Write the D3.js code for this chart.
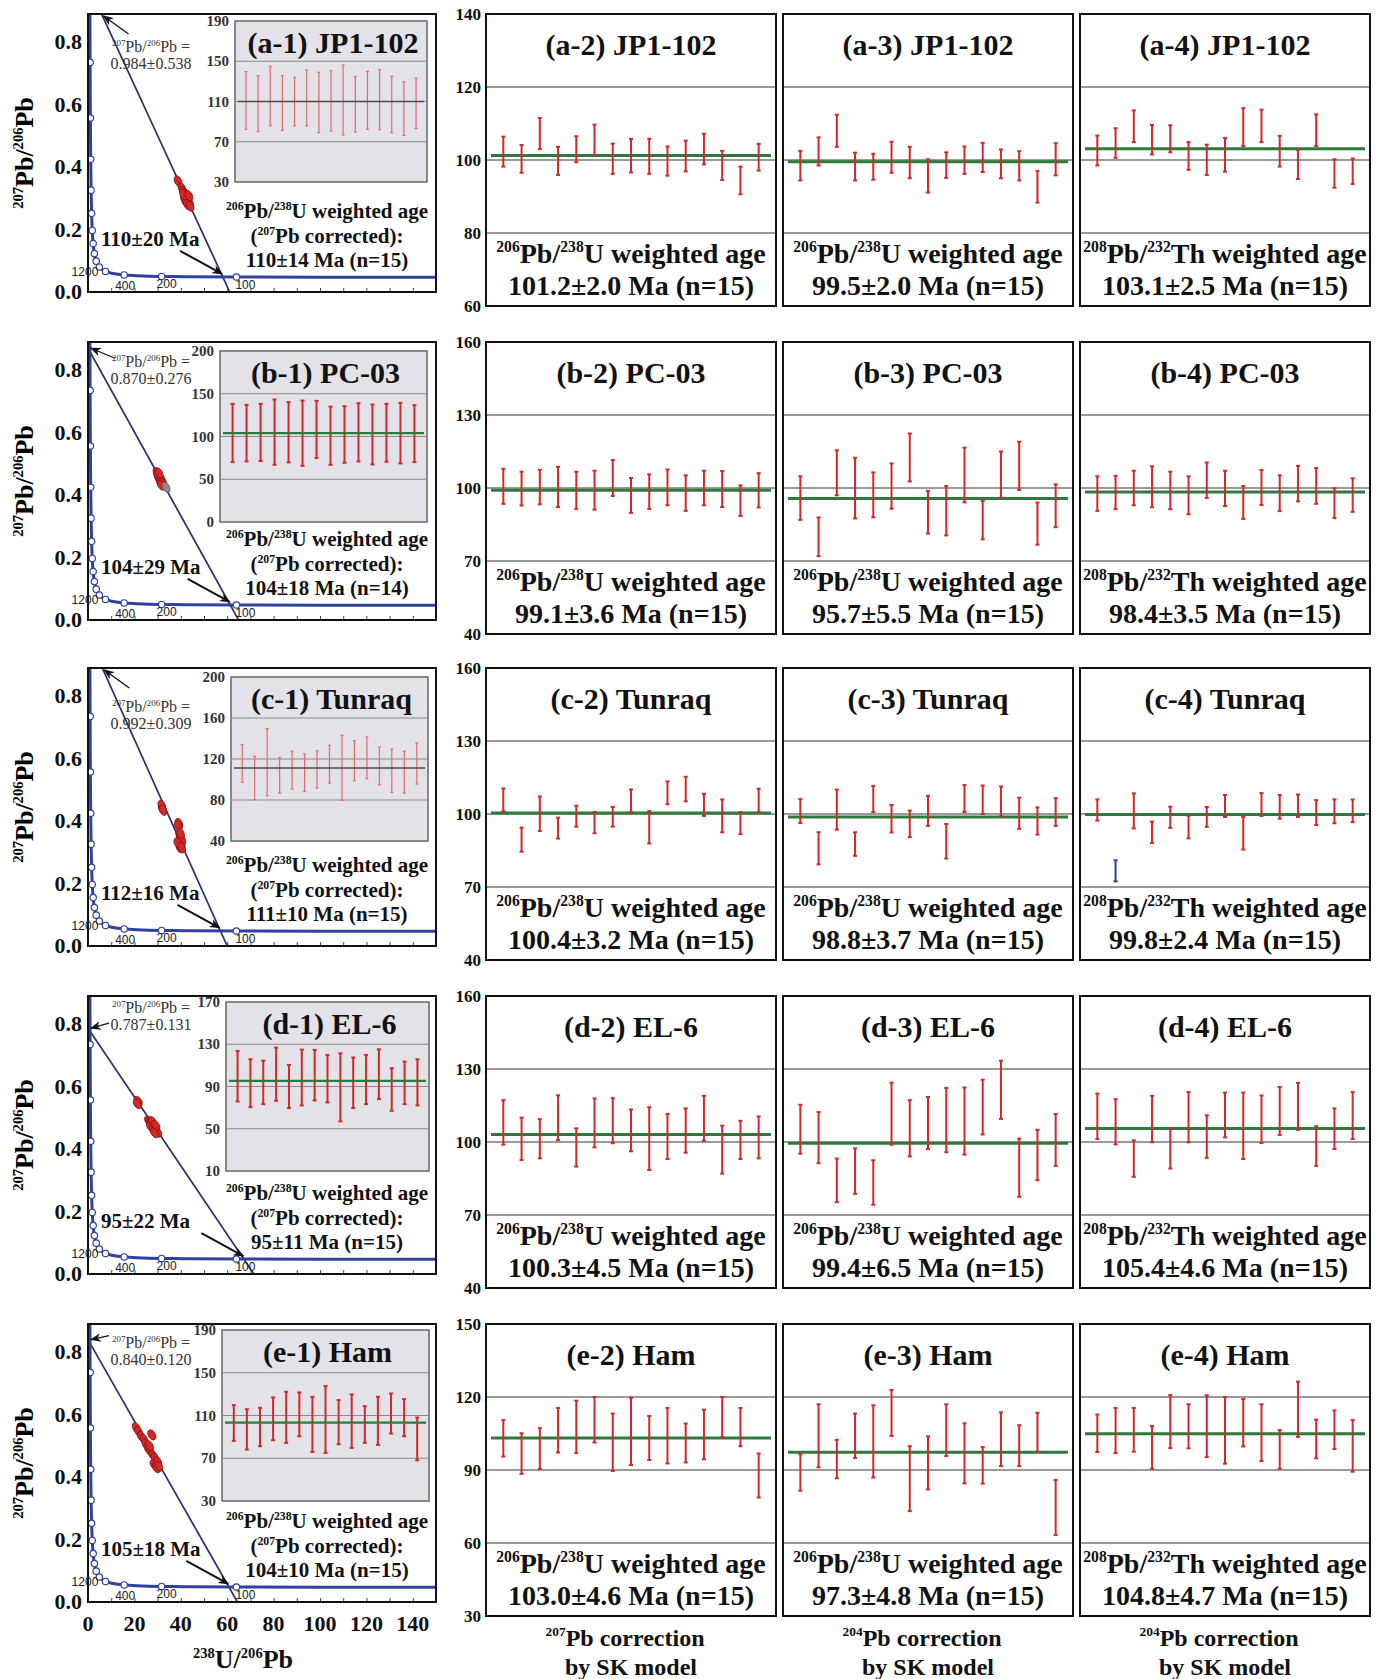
<!DOCTYPE html>
<html>
<head>
<meta charset="utf-8">
<script src="https://cdn.jsdelivr.net/npm/d3@7"></script>
<style>
  body { margin: 0; background: #fff; }
  svg text { font-family: "Liberation Serif", "Times New Roman", serif; }
</style>
</head>
<body>
<svg id="fig" width="1386" height="1679"></svg>
<script>
// ---------------- data ----------------
const rowIds = ["a", "b", "c", "d", "e"];
const sampleNames = ["JP1-102", "PC-03", "Tunraq", "EL-6", "Ham"];

// Tera-Wasserburg: common Pb intercept, lower intercept and spot analyses
const commonPbText = ["0.984±0.538", "0.870±0.276", "0.992±0.309", "0.787±0.131", "0.840±0.120"];
const commonPbValue = [0.984, 0.870, 0.992, 0.787, 0.840];
const lowerAxisCross = [61.1, 64.9, 60.0, 71.5, 64.4];
const interceptText = ["110±20 Ma", "104±29 Ma", "112±16 Ma", "95±22 Ma", "105±18 Ma"];
const interceptPoint = [[58.2, 0.0485], [61.5, 0.0482], [57.1, 0.0486], [67.4, 0.048], [60.9, 0.0482]];

// concordia: [age Ma, 238U/206Pb, 207Pb/206Pb]
const concordia = [
  [5200, 0.806, 0.974], [5000, 0.853, 0.845], [4800, 0.905, 0.735], [4400, 1.022, 0.557],
  [4000, 1.163, 0.425], [3600, 1.337, 0.326], [3200, 1.556, 0.252], [2800, 1.838, 0.197],
  [2400, 2.217, 0.155], [2000, 2.749, 0.123], [1800, 3.104, 0.110], [1600, 3.55, 0.0987],
  [1400, 4.122, 0.0888], [1200, 4.88, 0.080], [1000, 5.959, 0.0725], [800, 7.57, 0.0658],
  [600, 10.25, 0.0599], [400, 15.6, 0.0546], [300, 20.99, 0.0523], [200, 31.73, 0.0498],
  [150, 42.48, 0.0491], [100, 63.96, 0.048], [50, 128.4, 0.047], [40, 160.7, 0.0468]
];
const concordiaMarks = [4800, 4400, 4000, 3600, 3200, 2800, 2400, 2000, 1600, 1200, 800, 400, 200, 100];
const concordiaTags = [1200, 400, 200, 100];

const spotsA = [[38.8, 0.355], [40.5, 0.332], [41.0, 0.322], [41.8, 0.316], [42.2, 0.31], [41.5, 0.30], [42.5, 0.305], [43.0, 0.298], [42.0, 0.29], [43.2, 0.293], [43.8, 0.285], [42.8, 0.28], [44.0, 0.275], [41.2, 0.312], [43.5, 0.308]];
const spotsB = [[29.8, 0.472], [30.3, 0.462], [30.8, 0.458], [31.0, 0.452], [31.5, 0.447], [31.2, 0.44], [30.5, 0.452], [31.8, 0.44], [32.0, 0.445], [30.0, 0.462], [31.3, 0.456], [32.2, 0.437], [30.6, 0.47], [31.6, 0.432]];
const rejectedSpotsB = [[33.6, 0.425]];
const spotsC = [[32.0, 0.44], [31.8, 0.45], [32.3, 0.435], [39.2, 0.392], [38.9, 0.385], [39.5, 0.355], [39.8, 0.345], [40.2, 0.33], [39.3, 0.325], [40.5, 0.34], [39.6, 0.315], [40.0, 0.32], [38.7, 0.33], [39.9, 0.36], [40.4, 0.315]];
const spotsD = [[21.6, 0.553], [21.3, 0.545], [26.2, 0.49], [26.8, 0.484], [27.5, 0.48], [28.0, 0.474], [28.5, 0.468], [29.0, 0.463], [27.0, 0.472], [28.2, 0.46], [29.5, 0.458], [30.0, 0.454], [27.8, 0.488], [29.2, 0.476], [28.7, 0.452]];
const spotsE = [[20.8, 0.558], [21.8, 0.545], [23.0, 0.53], [24.2, 0.52], [25.0, 0.505], [27.5, 0.535], [26.0, 0.49], [27.0, 0.48], [28.0, 0.47], [29.0, 0.46], [28.5, 0.44], [30.0, 0.45], [29.5, 0.43], [30.5, 0.435], [26.5, 0.50]];
const spots = [spotsA, spotsB, spotsC, spotsD, spotsE];

// inset: 206Pb/238U ages (207Pb corrected), [high, low]
const insetA = [[139.7, 82.3], [135.7, 80.0], [145.0, 86.0], [135.7, 81.3], [134.0, 85.7], [141.3, 85.7], [139.0, 79.0], [140.7, 80.7], [146.3, 76.7], [134.7, 79.7], [140.0, 82.3], [141.7, 82.0], [135.0, 79.0], [129.7, 76.3], [133.3, 83.3]];
const insetB = [[138.2, 70.1], [137.0, 70.9], [138.2, 71.3], [143.3, 66.9], [140.2, 69.7], [142.1, 65.7], [141.7, 74.8], [135.0, 66.9], [135.4, 69.3], [139.0, 70.9], [137.4, 67.3], [138.2, 70.5], [139.4, 68.5], [136.6, 70.1]];
const insetC = [[134.0, 97.2], [122.6, 80.3], [149.6, 84.2], [121.6, 86.8], [127.5, 90.7], [124.9, 88.4], [128.1, 91.7], [133.4, 96.5], [143.1, 79.6], [137.9, 98.8], [141.5, 100.8], [131.7, 94.9], [129.8, 87.4], [127.5, 86.8], [135.6, 95.6]];
const insetD = [[123.6, 75.8], [115.8, 70.5], [114.5, 73.3], [126.8, 76.5], [110.4, 69.6], [124.9, 72.1], [124.6, 76.8], [119.9, 74.9], [121.4, 57.0], [117.4, 69.6], [119.9, 73.3], [125.2, 78.1], [107.3, 67.0], [113.6, 73.3], [115.8, 72.1]];
const insetE = [[119.7, 86.3], [115.9, 78.1], [117.2, 81.3], [126.9, 86.9], [132.2, 84.4], [131.6, 90.6], [127.5, 75.9], [137.5, 75.0], [124.4, 83.1], [129.7, 79.7], [118.8, 84.4], [127.5, 82.5], [130.6, 93.1], [125.3, 90.6], [108.1, 68.1]];
const insetSeries = [insetA, insetB, insetC, insetD, insetE];
const insetDomain = [[30, 190], [0, 200], [40, 200], [10, 170], [30, 190]];
const insetStep = [40, 50, 40, 40, 40];
const insetMean = [110, 104, 111.2, 95.3, 103.4];
const insetAgeText = ["110±14 Ma (n=15)", "104±18 Ma (n=14)", "111±10 Ma (n=15)", "95±11 Ma (n=15)", "104±10 Ma (n=15)"];

// weighted age panels, [high, low]
const ageA2 = [[106.4, 98.2], [104.1, 96.5], [111.5, 103.0], [103.6, 95.9], [106.5, 99.4], [109.7, 101.4], [104.5, 96.2], [105.8, 96.6], [105.8, 96.2], [103.7, 95.7], [105.3, 96.9], [107.2, 98.8], [102.5, 94.5], [98.2, 90.6], [104.4, 97.1]];
const ageA3 = [[102.5, 94.4], [106.2, 98.5], [112.4, 103.6], [102.0, 94.4], [101.7, 94.6], [105.0, 96.5], [103.6, 95.0], [100.2, 91.1], [102.1, 95.1], [103.7, 96.2], [104.7, 96.7], [102.9, 95.0], [102.4, 94.4], [97.0, 88.3], [104.6, 95.8]];
const ageA4 = [[106.7, 98.5], [108.7, 100.6], [113.6, 104.9], [109.6, 101.5], [109.5, 102.1], [104.9, 97.3], [104.2, 95.9], [106.0, 96.8], [114.2, 103.8], [113.8, 104.9], [106.6, 98.2], [102.8, 94.8], [112.5, 103.8], [100.2, 92.4], [100.4, 93.4]];
const ageB2 = [[107.9, 93.5], [106.7, 92.8], [107.5, 93.3], [108.7, 92.2], [106.7, 91.4], [107.1, 91.1], [111.5, 96.7], [104.1, 89.8], [105.6, 91.4], [107.6, 92.9], [105.2, 90.6], [107.1, 92.9], [107.0, 92.2], [101.1, 88.5], [106.1, 92.0]];
const ageB3 = [[104.8, 86.9], [87.9, 72.0], [115.5, 97.0], [112.4, 87.5], [106.4, 88.0], [110.1, 91.5], [122.4, 102.7], [98.8, 81.3], [100.8, 80.5], [116.6, 94.1], [94.7, 78.9], [115.0, 96.0], [119.0, 99.2], [94.0, 76.7], [101.5, 83.9]];
const ageB4 = [[104.8, 90.6], [105.0, 91.3], [107.1, 92.9], [108.9, 92.1], [106.7, 91.3], [104.8, 89.2], [110.5, 95.9], [107.1, 92.6], [100.8, 87.3], [107.4, 93.0], [105.2, 90.5], [109.1, 94.5], [108.2, 93.5], [99.9, 87.7], [104.0, 90.2]];
const ageC2 = [[110.5, 101.1], [94.4, 84.5], [107.2, 93.0], [98.5, 89.9], [103.4, 94.8], [100.8, 92.1], [102.9, 94.8], [110.1, 100.8], [101.2, 87.9], [113.4, 104.0], [115.3, 105.2], [108.3, 99.2], [106.0, 92.5], [100.8, 91.7], [110.4, 100.7]];
const ageC3 = [[106.1, 96.3], [92.5, 79.3], [110.0, 93.6], [92.5, 82.8], [111.5, 100.8], [103.7, 92.4], [101.4, 90.5], [107.5, 95.1], [95.9, 81.7], [111.9, 100.8], [111.7, 100.0], [111.3, 99.0], [106.7, 93.9], [102.7, 91.5], [106.5, 95.1]];
const ageC4 = [[106.0, 97.3], [81.0, 72.3], [108.5, 94.1], [96.9, 88.1], [103.0, 94.3], [99.3, 90.0], [102.9, 94.7], [107.8, 98.8], [98.8, 85.4], [108.6, 99.2], [107.8, 98.1], [108.0, 98.8], [105.7, 95.5], [106.0, 96.2], [106.0, 96.7]];
const rejectedC4 = [1]; // index of the spot left out of the mean
const ageD2 = [[117.2, 98.9], [110.0, 92.6], [109.4, 93.3], [119.2, 100.8], [105.6, 89.9], [117.9, 97.8], [118.0, 99.5], [113.4, 96.2], [114.3, 88.5], [111.5, 93.0], [113.8, 95.6], [119.0, 100.5], [106.7, 87.0], [108.7, 93.0], [110.5, 93.3]];
const ageD3 = [[115.3, 95.2], [112.3, 91.3], [93.2, 75.3], [97.4, 78.7], [92.5, 74.2], [124.4, 98.9], [117.2, 94.1], [118.5, 97.1], [122.2, 95.8], [122.4, 94.8], [125.6, 103.1], [133.4, 109.5], [101.4, 77.5], [105.0, 84.3], [111.5, 90.2]];
const ageD4 = [[119.9, 101.2], [117.6, 99.0], [100.7, 85.7], [119.0, 99.9], [105.3, 89.1], [120.5, 99.9], [111.0, 93.5], [120.3, 101.9], [120.3, 93.0], [119.1, 99.6], [122.6, 102.9], [124.3, 105.0], [106.5, 90.2], [113.8, 97.1], [120.5, 101.2]];
const ageE2 = [[110.5, 95.5], [105.1, 88.4], [107.2, 90.4], [115.5, 97.2], [118.5, 97.0], [120.0, 101.3], [113.2, 89.6], [119.7, 92.0], [112.2, 94.1], [115.5, 92.7], [109.1, 93.1], [114.8, 94.4], [120.0, 103.5], [115.5, 99.8], [96.8, 78.7]];
const ageE3 = [[96.5, 81.5], [117.0, 91.1], [102.4, 86.6], [113.2, 94.9], [116.6, 86.9], [122.9, 104.0], [99.8, 73.1], [103.8, 82.0], [117.0, 95.7], [109.2, 84.5], [99.4, 84.4], [113.7, 91.6], [108.4, 91.6], [113.5, 97.5], [85.9, 63.3]];
const ageE4 = [[112.8, 97.4], [115.5, 97.0], [115.5, 97.5], [108.1, 90.5], [120.8, 99.0], [117.0, 98.9], [120.7, 95.3], [120.0, 92.6], [119.2, 99.7], [117.0, 93.7], [106.4, 90.5], [126.3, 103.6], [110.7, 94.8], [114.5, 98.6], [110.5, 89.3]];
const ageSeries = [[ageA2, ageA3, ageA4], [ageB2, ageB3, ageB4], [ageC2, ageC3, ageC4], [ageD2, ageD3, ageD4], [ageE2, ageE3, ageE4]];

const ageDomain = [[60, 140], [40, 160], [40, 160], [40, 160], [30, 150]];
const ageStep = [20, 30, 30, 30, 30];
const meanLines = [[101.2, 99.5, 103.1], [99.1, 95.7, 98.4], [100.4, 98.8, 99.8], [103.1, 99.5, 105.5], [103.1, 97.3, 104.9]];
const meanText = [
  ["101.2±2.0 Ma (n=15)", "99.5±2.0 Ma (n=15)", "103.1±2.5 Ma (n=15)"],
  ["99.1±3.6 Ma (n=15)", "95.7±5.5 Ma (n=15)", "98.4±3.5 Ma (n=15)"],
  ["100.4±3.2 Ma (n=15)", "98.8±3.7 Ma (n=15)", "99.8±2.4 Ma (n=15)"],
  ["100.3±4.5 Ma (n=15)", "99.4±6.5 Ma (n=15)", "105.4±4.6 Ma (n=15)"],
  ["103.0±4.6 Ma (n=15)", "97.3±4.8 Ma (n=15)", "104.8±4.7 Ma (n=15)"]
];
const methodText = ["^{206}Pb/^{238}U weighted age", "^{206}Pb/^{238}U weighted age", "^{208}Pb/^{232}Th weighted age"];
const footerText = ["^{207}Pb correction", "^{204}Pb correction", "^{204}Pb correction"];

// ---------------- layout ----------------
const rowTop = [14, 342, 668, 996, 1324];
const twLeft = 88, twRight = 436, twHeight = 278;
const twX = [0, 150], twY = [0, 0.89];
const panelX = [[486, 776], [783, 1073], [1080, 1370]];
const panelHeight = 292;
const insetX = [[235, 427], [220, 427], [231, 428], [226, 429], [222, 429]];
const insetY = [[7, 168], [9, 180], [9, 173], [6, 175], [6, 177]];
const tagY = [38, 25, 44, 17, 24];
const tagArrow = [[25, 18], [24, 10], [25, 18], [18, -5], [18, -4]];

const red = "#d42828", green = "#2e7a3c", blue = "#2f40a0", navy = "#2b2d6e";

const svg = d3.select("#fig");
const defs = svg.append("defs");
defs.append("marker")
  .attr("id", "arrowHead")
  .attr("viewBox", "0 0 10 8")
  .attr("refX", 9)
  .attr("refY", 4)
  .attr("markerWidth", 11)
  .attr("markerHeight", 9)
  .attr("markerUnits", "userSpaceOnUse")
  .attr("orient", "auto")
  .append("path")
  .attr("d", "M0,0 L10,4 L0,8 L3,4 Z")
  .attr("fill", "#111");

// text with ^{..} superscripts
function richText(sel, str, fs) {
  const parts = str.split(/(\^\{[^}]*\})/).filter(function (s) { return s.length; });
  let raised = false;
  parts.forEach(function (p) {
    const sup = p.indexOf("^{") === 0;
    const t = sel.append("tspan").text(sup ? p.slice(2, -1) : p);
    if (sup) {
      t.attr("font-size", fs * 0.56);
      if (!raised) t.attr("dy", -fs * 0.4);
      raised = true;
    } else {
      if (raised) t.attr("dy", fs * 0.4);
      raised = false;
    }
  });
  return sel;
}

function label(g, x, y, str, fs, opts) {
  opts = opts || {};
  const t = g.append("text")
    .attr("x", x)
    .attr("y", y)
    .attr("font-size", fs)
    .attr("font-weight", opts.weight || "bold")
    .attr("text-anchor", opts.anchor || "middle")
    .attr("fill", opts.fill || "#111");
  if (opts.family) t.style("font-family", opts.family);
  return richText(t, str, fs);
}

function errorBars(g, data, x, y, color, width, cap) {
  const bars = g.append("g").selectAll("g").data(data).enter().append("g");
  bars.append("line")
    .attr("x1", function (d, k) { return x(k); })
    .attr("x2", function (d, k) { return x(k); })
    .attr("y1", function (d) { return y(d[0]); })
    .attr("y2", function (d) { return y(d[1]); })
    .attr("stroke", function (d) { return d.color || color; })
    .attr("stroke-width", width);
  [0, 1].forEach(function (e) {
    bars.append("line")
      .attr("x1", function (d, k) { return x(k) - cap; })
      .attr("x2", function (d, k) { return x(k) + cap; })
      .attr("y1", function (d) { return y(d[e]); })
      .attr("y2", function (d) { return y(d[e]); })
      .attr("stroke", function (d) { return d.color || color; })
      .attr("stroke-width", width);
  });
}

// ---------------- Tera-Wasserburg panel ----------------
function drawTW(i) {
  const top = rowTop[i], bottom = top + twHeight;
  const g = svg.append("g").attr("class", "tw");
  const x = d3.scaleLinear().domain(twX).range([twLeft, twRight]);
  const y = d3.scaleLinear().domain(twY).range([bottom, top]);

  const clipId = "clip-" + rowIds[i];
  defs.append("clipPath").attr("id", clipId)
    .append("rect")
    .attr("x", twLeft).attr("y", top)
    .attr("width", twRight - twLeft).attr("height", twHeight);
  const plot = g.append("g").attr("clip-path", "url(#" + clipId + ")");

  // inner ticks on the bottom axis
  g.append("g")
    .attr("transform", "translate(0," + bottom + ")")
    .call(d3.axisTop(x).tickValues(d3.range(10, 150, 10)).tickSize(4).tickFormat(""))
    .call(function (a) { a.select(".domain").remove(); })
    .selectAll("line").attr("stroke", "#444");

  // discordia
  plot.append("line")
    .attr("x1", x(0)).attr("y1", y(commonPbValue[i]))
    .attr("x2", x(lowerAxisCross[i])).attr("y2", y(0))
    .attr("stroke", navy).attr("stroke-width", 1.7);

  // concordia
  plot.append("path")
    .datum(concordia)
    .attr("d", d3.line().x(function (d) { return x(d[1]); }).y(function (d) { return y(d[2]); }).curve(d3.curveMonotoneX))
    .attr("fill", "none").attr("stroke", blue).attr("stroke-width", 3);
  plot.selectAll("circle.mark")
    .data(concordia.filter(function (d) { return concordiaMarks.indexOf(d[0]) >= 0; }))
    .enter().append("circle")
    .attr("cx", function (d) { return x(d[1]); })
    .attr("cy", function (d) { return y(d[2]); })
    .attr("r", 3.2)
    .attr("fill", "#fff").attr("stroke", blue).attr("stroke-width", 1.2);

  // spots, drawn as ellipses along the discordia
  const ang = Math.atan2(y(0) - y(commonPbValue[i]), x(lowerAxisCross[i]) - x(0)) * 180 / Math.PI;
  const spotData = spots[i].map(function (d) { return { p: d, c: red }; });
  if (i === 1) rejectedSpotsB.forEach(function (d) { spotData.push({ p: d, c: "#8c8c8c" }); });
  plot.selectAll("ellipse")
    .data(spotData)
    .enter().append("ellipse")
    .attr("transform", function (d) { return "translate(" + x(d.p[0]) + "," + y(d.p[1]) + ") rotate(" + ang + ")"; })
    .attr("rx", 5.5).attr("ry", 3.4)
    .attr("fill", function (d) { return d.c; })
    .attr("stroke", function (d) { return d.c === red ? "#8a1010" : "#555"; })
    .attr("stroke-width", 0.8);

  // frame
  g.append("rect")
    .attr("x", twLeft).attr("y", top)
    .attr("width", twRight - twLeft).attr("height", twHeight)
    .attr("fill", "none").attr("stroke", "#111").attr("stroke-width", 2);

  // y ticks
  [0, 0.2, 0.4, 0.6, 0.8].forEach(function (v) {
    label(g, twLeft - 6, y(v) + 7, v.toFixed(1), 22, { anchor: "end" });
  });
  g.append("text")
    .attr("transform", "translate(33," + (top + twHeight / 2) + ") rotate(-90)")
    .attr("text-anchor", "middle").attr("font-size", 26).attr("font-weight", "bold")
    .call(function (t) { richText(t, "^{207}Pb/^{206}Pb", 26); });

  // concordia age tags
  const tagPos = { 1200: ["end", -1, 9], 400: ["middle", 1, 15], 200: ["middle", 5, 12], 100: ["start", -1, 12] };
  concordia.filter(function (d) { return concordiaTags.indexOf(d[0]) >= 0; }).forEach(function (d) {
    const o = tagPos[d[0]];
    label(g, x(d[1]) + o[1], y(d[2]) + o[2], String(d[0]), 12,
      { anchor: o[0], weight: "normal", fill: "#222", family: "'Liberation Sans', Arial, sans-serif" });
  });

  // common Pb intercept tag
  const yInt = commonPbValue[i];
  let endX, endY;
  if (yInt > twY[1]) {
    endX = x(lowerAxisCross[i] * (1 - twY[1] / yInt)) + 2;
    endY = top + 2;
  } else {
    endX = x(0) + 3;
    endY = y(yInt);
  }
  g.append("line")
    .attr("x1", endX + tagArrow[i][0]).attr("y1", endY + tagArrow[i][1])
    .attr("x2", endX).attr("y2", endY)
    .attr("stroke", "#111").attr("stroke-width", 1.3)
    .attr("marker-end", "url(#arrowHead)");
  label(g, 151, top + tagY[i], "^{207}Pb/^{206}Pb =", 16, { weight: "normal", fill: "#333" });
  label(g, 151, top + tagY[i] + 17, commonPbText[i], 16, { weight: "normal", fill: "#333" });

  // lower intercept age
  label(g, 101, top + 232, interceptText[i], 21, { anchor: "start" });
  const ip = interceptPoint[i];
  const ex = x(ip[0]) - 1, ey = y(ip[1]) - 3;
  g.append("line")
    .attr("x1", ex - 42).attr("y1", ey - 23)
    .attr("x2", ex).attr("y2", ey)
    .attr("stroke", "#111").attr("stroke-width", 2)
    .attr("marker-end", "url(#arrowHead)");

  // x axis labels only under the last row
  if (i === rowIds.length - 1) {
    d3.range(0, 141, 20).forEach(function (v) {
      label(g, x(v), bottom + 29, String(v), 22);
    });
    label(g, 243, bottom + 66, "^{238}U/^{206}Pb", 26);
  }
}

// ---------------- inset: 207Pb corrected ages ----------------
function drawInset(i) {
  const top = rowTop[i];
  const g = svg.append("g").attr("class", "inset");
  const x0 = insetX[i][0], x1 = insetX[i][1];
  const y0 = top + insetY[i][0], y1 = top + insetY[i][1];
  const y = d3.scaleLinear().domain(insetDomain[i]).range([y1, y0]);
  const data = insetSeries[i];
  const x = d3.scalePoint().domain(d3.range(data.length)).range([x0, x1]).padding(0.9);
  const thin = i === 0 || i === 2;

  g.append("rect")
    .attr("x", x0).attr("y", y0).attr("width", x1 - x0).attr("height", y1 - y0)
    .attr("fill", "#e2e2e8").attr("stroke", "#666").attr("stroke-width", 1.5);

  const ticks = d3.range(insetDomain[i][0], insetDomain[i][1] + 1, insetStep[i]);
  g.selectAll("line.grid")
    .data(ticks.slice(1, -1))
    .enter().append("line")
    .attr("x1", x0).attr("x2", x1)
    .attr("y1", function (d) { return y(d); }).attr("y2", function (d) { return y(d); })
    .attr("stroke", "#8a8a8a").attr("stroke-width", 1);
  ticks.forEach(function (v) {
    label(g, x0 - 6, y(v) + 5, String(v), 15, { anchor: "end", fill: "#333" });
  });

  errorBars(g, data, x, y, thin ? "#e06a6a" : red, thin ? 1.2 : 2, thin ? 1.5 : 2);

  g.append("line")
    .attr("x1", x0 + 3).attr("x2", x1 - 3)
    .attr("y1", y(insetMean[i])).attr("y2", y(insetMean[i]))
    .attr("stroke", thin ? "#4a4a4a" : green).attr("stroke-width", thin ? 1.3 : 2.2);

  label(g, (x0 + x1) / 2 + 2, y0 + 32, "(" + rowIds[i] + "-1) " + sampleNames[i], 30);
  label(g, 327, top + 204, "^{206}Pb/^{238}U weighted age", 21);
  label(g, 327, top + 229, "(^{207}Pb corrected):", 21);
  label(g, 327, top + 253, insetAgeText[i], 21);
}

// ---------------- weighted age panels ----------------
function drawAgePanel(i, j) {
  const top = rowTop[i], bottom = top + panelHeight;
  const x0 = panelX[j][0], x1 = panelX[j][1];
  const g = svg.append("g").attr("class", "age");
  const y = d3.scaleLinear().domain(ageDomain[i]).range([bottom, top]);
  const data = ageSeries[i][j].map(function (d, k) {
    const r = d.slice();
    if (i === 2 && j === 2 && rejectedC4.indexOf(k) >= 0) r.color = blue;
    return r;
  });
  const x = d3.scalePoint().domain(d3.range(data.length)).range([x0, x1]).padding(0.95);

  const ticks = d3.range(ageDomain[i][0], ageDomain[i][1] + 1, ageStep[i]);
  g.selectAll("line.grid")
    .data(ticks.slice(1, -1))
    .enter().append("line")
    .attr("x1", x0).attr("x2", x1)
    .attr("y1", function (d) { return y(d); }).attr("y2", function (d) { return y(d); })
    .attr("stroke", "#9a9a9a").attr("stroke-width", 2);

  g.append("line")
    .attr("x1", x0 + 5).attr("x2", x1 - 5)
    .attr("y1", y(meanLines[i][j])).attr("y2", y(meanLines[i][j]))
    .attr("stroke", green).attr("stroke-width", 3);

  errorBars(g, data, x, y, red, 2, 2);

  g.append("rect")
    .attr("x", x0).attr("y", top).attr("width", x1 - x0).attr("height", panelHeight)
    .attr("fill", "none").attr("stroke", "#111").attr("stroke-width", 2);

  if (j === 0) {
    ticks.forEach(function (v) {
      label(g, x0 - 5, y(v) + 6, String(v), 17, { anchor: "end" });
    });
  }

  const cx = (x0 + x1) / 2;
  label(g, cx, top + 41, "(" + rowIds[i] + "-" + (j + 2) + ") " + sampleNames[i], 30);
  label(g, cx, bottom - 43, methodText[j], 28);
  label(g, cx, bottom - 11, meanText[i][j], 28);

  if (i === rowIds.length - 1) {
    label(g, cx - 6, 1646, footerText[j], 24);
    label(g, cx, 1675, "by SK model", 24);
  }
}

rowIds.forEach(function (id, i) {
  drawTW(i);
  drawInset(i);
  [0, 1, 2].forEach(function (j) { drawAgePanel(i, j); });
});
</script>
